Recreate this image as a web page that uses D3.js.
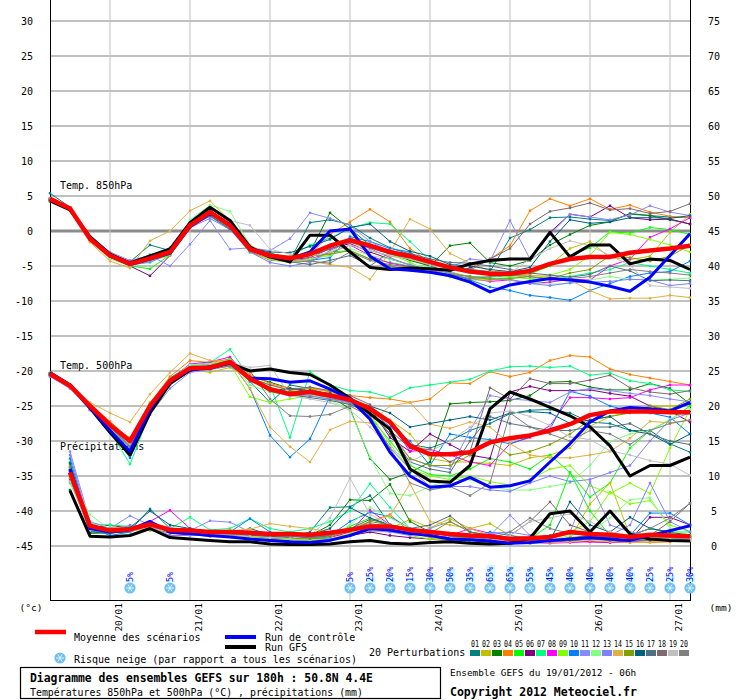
<!DOCTYPE html>
<html>
<head>
<meta charset="utf-8">
<script src="https://cdn.jsdelivr.net/npm/d3@7"></script>
<style>
  body { margin: 0; background: #fff; }
  text { font-family: "DejaVu Sans Mono", monospace; }
</style>
</head>
<body>
<div id="vis"></div>
<script>
// 6-hourly steps from 19/01 06h (index 0) to 27/01 06h (index 32)
const dayLabels = ["20/01", "21/01", "22/01", "23/01", "24/01", "25/01", "26/01", "27/01"];
const dayFirstStep = 3; // 20/01 00h
const leftTicks = [30, 25, 20, 15, 10, 5, 0, -5, -10, -15, -20, -25, -30, -35, -40, -45];
const rightTicks = [75, 70, 65, 60, 55, 50, 45, 40, 35, 30, 25, 20, 15, 10, 5, 0];

const snowSteps = [4, 6, 15, 16, 17, 18, 19, 20, 21, 22, 23, 24, 25, 26, 27, 28, 29, 30, 31, 32];
const snowPct   = [5, 5, 5, 25, 20, 15, 30, 50, 35, 65, 65, 55, 45, 40, 40, 40, 40, 25, 25, 30];

const pertNames = ["01","02","03","04","05","06","07","08","09","10","11","12","13","14","15","16","17","18","19","20"];
const pertColors = ["#008080","#c0c000","#008000","#ff8000","#00ff00","#800080","#00ff80","#ff00ff","#80ff00","#0080ff",
                    "#8888ff","#80ff80","#7f7fff","#e0b040","#80a000","#006080","#507080","#806870","#c0c0c0","#808080"];

// Temp 850 hPa (°C)
const t850Mean = [4.6,3.2,-1.1,-3.5,-4.7,-3.9,-3.0,0.8,2.7,0.8,-2.6,-3.5,-3.9,-3.3,-2.1,-1.3,-2.1,-3.0,-3.6,-4.4,-5.2,-5.8,-6.1,-6.1,-5.7,-4.7,-4.0,-3.7,-3.7,-3.1,-2.8,-2.5,-2.1];
const t850Ctrl = [4.5,3.2,-1.0,-3.6,-4.8,-4.0,-3.2,0.6,2.5,1.0,-2.5,-3.6,-4.0,-3.0,0.0,0.3,-3.6,-5.4,-5.6,-5.9,-6.4,-7.3,-8.7,-7.7,-7.2,-6.8,-7.0,-7.3,-7.9,-8.6,-6.6,-3.5,-0.4];
const t850Gfs  = [4.3,3.0,-0.8,-3.3,-4.6,-3.6,-2.6,1.2,3.4,1.5,-2.3,-3.7,-4.4,-0.6,-0.6,-3.0,-5.2,-5.5,-5.3,-5.4,-5.6,-4.7,-4.2,-4.0,-4.0,-0.2,-3.7,-2.0,-2.0,-4.7,-4.0,-4.2,-5.5];
const t850Pert = [
  [5.4,3.4,-0.8,-3.2,-4.4,-2.0,-2.8,1.0,2.6,1.0,-2.2,-3.6,-4.2,1.2,1.6,0.9,-1.0,-2.4,-3.3,-4.6,-5.0,-5.5,-5.8,-1.0,0.2,1.9,2.0,1.7,1.5,2.4,2.2,2.0,1.9],
  [4.3,3.1,-1.3,-3.7,-4.9,-4.2,-3.3,0.5,2.2,0.4,-3.0,-4.0,-4.5,-3.9,-3.5,-1.5,-2.8,-3.6,-4.0,-5.0,-5.8,-6.6,-7.0,-6.8,-6.2,-4.8,-2.5,-1.5,-3.8,-4.1,-3.6,-0.2,2.4],
  [4.5,3.3,-0.9,-3.4,-4.6,-3.7,-2.9,1.1,2.9,0.9,-2.3,-3.2,-3.8,-3.0,2.6,0.3,-2.0,-3.2,-4.2,-5.0,-2.1,-1.7,-4.5,-5.0,-4.2,-2.0,-0.5,0.8,1.3,2.5,2.2,1.6,1.0],
  [4.2,3.0,-1.4,-3.8,-4.6,-3.6,-2.5,1.3,3.2,1.4,-2.4,-3.3,-3.6,-3.4,-0.5,1.3,3.1,1.3,-2.5,-4.5,-5.2,-5.4,-4.0,-2.1,2.9,4.6,3.6,4.6,3.1,3.7,2.7,2.1,1.9],
  [4.4,3.2,-1.0,-3.5,-5.0,-5.4,-3.4,0.7,2.5,0.6,-2.8,-3.8,-4.0,-4.3,-3.0,-2.8,-4.0,-4.5,-5.0,-5.6,-6.0,-6.5,-6.6,-6.4,-6.1,-5.0,-3.5,-2.4,-0.1,-0.3,0.5,0.2,-0.5],
  [4.5,3.1,-1.2,-3.6,-5.0,-6.4,-3.5,0.6,2.4,0.5,-2.7,-3.9,-4.1,-3.8,-2.5,-1.8,-3.0,-4.0,-4.8,-5.5,-5.7,-5.3,-4.0,-4.0,-4.0,-0.2,2.4,2.0,3.6,1.9,1.6,1.7,1.0],
  [4.6,3.3,-1.2,-3.7,-4.8,-4.5,-3.2,0.9,2.8,0.7,-2.5,-3.4,-3.7,-2.0,-1.0,0.4,1.2,1.0,-1.5,-4.2,-5.0,-5.5,-6.0,-6.5,-6.8,-7.0,-6.5,-6.0,-5.5,-4.5,-5.0,-5.5,-6.0],
  [4.7,3.3,-1.0,-3.5,-4.9,-4.1,-2.8,1.2,3.0,0.6,-2.9,-4.2,-4.3,-4.0,-3.1,-2.0,-3.5,-4.6,-5.1,-5.6,-6.3,-6.8,-7.2,-7.0,-7.5,-7.3,-6.9,-7.0,-5.0,-4.0,-0.9,0.3,1.9],
  [4.4,3.0,-1.3,-3.6,-4.9,-4.3,-3.5,0.4,2.3,0.3,-3.1,-4.1,-4.5,-4.2,-3.2,-1.0,-1.8,-3.3,-4.5,-5.7,-6.6,-7.0,-7.0,-6.6,-6.8,-6.3,-5.5,-3.5,-0.2,-0.5,-1.2,-2.0,-3.0],
  [4.5,3.1,-1.1,-3.8,-4.5,-4.0,-3.0,0.7,2.1,0.2,-2.8,-3.7,-4.0,-4.2,-3.8,-0.8,-1.5,-2.5,-3.0,-5.0,-6.0,-7.0,-8.0,-8.5,-9.2,-9.5,-9.9,-8.5,-7.5,-6.5,-6.0,-5.8,-4.3],
  [4.3,3.0,-0.8,-3.0,-4.2,-3.5,-5.0,-1.9,1.5,-2.6,-2.4,-2.8,-1.1,2.6,1.8,0.8,-1.5,-3.0,-3.8,-4.4,-5.2,-4.0,-4.3,1.5,-4.0,-0.5,2.4,2.0,1.6,2.3,3.6,2.7,2.2],
  [4.3,3.1,-1.4,-4.0,-5.0,-4.2,-3.1,1.6,3.7,2.8,-2.0,-3.8,-4.4,-4.0,-3.5,-2.5,-3.5,-4.0,-4.8,-5.2,-6.0,-6.5,-6.8,-7.0,-7.3,-7.6,-7.5,-7.0,-6.5,-6.9,-7.0,-6.9,-6.7],
  [4.6,3.2,-1.2,-3.4,-4.9,-4.4,-3.3,0.5,1.8,0.2,-3.0,-4.5,-5.0,-4.5,-2.8,-1.5,-2.5,-3.8,-4.9,-5.5,-6.0,-6.5,-6.8,-6.9,-7.5,-7.8,-7.4,-7.3,-7.2,-6.9,-7.0,-7.8,-7.5],
  [4.2,2.9,-1.6,-4.3,-5.3,-1.4,0.0,2.9,4.3,1.5,-2.0,-3.6,-4.0,-4.3,-4.8,-5.2,-6.9,-3.0,1.7,0.3,-3.2,-4.6,-5.7,-6.0,-6.3,-6.5,-7.0,-8.5,-9.7,-9.6,-9.6,-9.2,-9.5],
  [4.4,3.1,-1.2,-3.5,-4.7,-3.8,-2.7,1.0,2.8,0.9,-2.6,-3.4,-3.8,-3.6,-3.3,-2.8,-4.0,-5.0,-5.5,-5.8,-6.2,-6.5,-6.9,-6.8,-6.5,-6.8,-6.0,-5.5,-3.5,-3.8,-4.3,-3.6,-2.0],
  [4.5,3.2,-1.0,-3.3,-4.4,-3.4,-2.4,1.1,2.9,1.0,-2.4,-3.0,-3.1,-2.2,-1.2,0.5,1.0,-1.5,-2.9,-3.6,-4.8,-5.0,-5.5,-5.8,-5.2,-1.5,1.6,1.1,1.3,1.9,1.9,1.8,2.2],
  [4.4,3.0,-1.3,-3.6,-4.8,-4.0,-3.2,0.7,2.2,0.3,-2.8,-3.5,-4.4,-4.8,-4.2,-3.5,-5.0,-3.0,-3.2,-4.0,-4.5,-4.6,-5.0,-5.5,-6.0,-6.3,-6.6,-6.2,-5.0,-5.7,-7.1,-7.0,-7.1],
  [4.5,3.1,-1.1,-3.5,-4.6,-3.9,-3.1,0.9,2.6,0.7,-2.5,-3.5,-3.9,-3.5,-2.6,-1.6,-2.4,-3.3,-3.9,-4.8,-5.4,-5.6,-4.0,-2.5,1.0,2.8,3.3,4.0,3.0,3.2,2.5,2.8,3.9],
  [4.6,3.3,-1.0,-3.4,-4.5,-3.8,-2.9,0.8,2.5,1.5,0.8,-2.6,-3.3,-3.6,-3.0,-2.0,-2.8,-3.5,-4.0,-4.8,-5.5,-6.0,-6.2,-6.0,-4.0,-2.5,-1.4,-2.1,-3.5,-4.9,-7.8,-8.0,-8.2],
  [4.5,3.2,-1.1,-3.5,-4.7,-3.9,-2.9,0.9,2.7,0.9,-2.6,-3.8,-4.5,-4.3,-4.6,-3.0,-4.2,-4.8,-5.2,-5.9,-6.2,-6.8,-6.5,-6.3,-6.5,-7.0,-6.8,-6.5,-6.0,-5.5,-5.8,-6.0,-6.3]
];

// Temp 500 hPa (°C)
const t500Mean = [-20.4,-22.1,-25.0,-27.7,-30.0,-25.0,-21.4,-19.6,-19.5,-18.7,-21.1,-22.6,-23.3,-23.0,-23.5,-24.1,-25.4,-27.3,-30.7,-31.9,-31.9,-31.6,-30.2,-29.6,-29.2,-28.5,-27.6,-26.3,-25.8,-25.8,-25.8,-25.9,-25.9];
const t500Ctrl = [-20.3,-22.0,-25.2,-28.5,-31.5,-25.5,-21.5,-19.8,-19.6,-18.8,-21.0,-21.1,-21.6,-21.4,-22.6,-24.0,-26.9,-31.6,-35.0,-36.6,-36.4,-35.2,-36.6,-36.4,-35.7,-33.0,-30.4,-27.3,-25.7,-25.2,-25.4,-25.7,-24.5];
const t500Gfs  = [-20.2,-22.0,-25.3,-28.8,-32.0,-26.0,-21.8,-19.9,-19.4,-18.9,-20.0,-19.7,-20.2,-20.5,-22.0,-23.9,-26.1,-28.3,-34.0,-35.7,-35.9,-33.5,-25.4,-23.0,-24.0,-25.2,-26.4,-28.0,-30.7,-35.0,-33.5,-33.5,-32.3];
const t500Pert = [
  [-20.5,-22.0,-25.0,-27.5,-30.5,-24.8,-21.0,-19.2,-19.0,-18.5,-21.5,-24.5,-22.0,-22.5,-23.5,-24.4,-25.5,-27.0,-30.5,-31.0,-30.0,-28.5,-27.5,-26.1,-25.6,-25.5,-26.0,-27.3,-27.5,-28.5,-28.5,-30.4,-31.6],
  [-20.6,-22.3,-25.3,-27.8,-29.5,-24.5,-21.2,-19.8,-20.2,-19.5,-21.0,-22.0,-22.8,-22.5,-23.0,-24.0,-25.0,-27.0,-29.0,-32.5,-33.0,-33.0,-33.2,-33.5,-32.4,-32.0,-31.0,-27.9,-26.5,-25.8,-25.0,-25.0,-24.8],
  [-20.4,-22.1,-25.1,-27.9,-30.4,-25.2,-21.3,-19.3,-19.3,-18.5,-20.8,-21.6,-22.5,-23.0,-23.6,-25.4,-32.5,-35.5,-34.5,-33.0,-24.7,-24.5,-24.4,-24.2,-23.5,-21.6,-21.5,-22.3,-22.7,-22.7,-21.8,-22.5,-24.7],
  [-20.3,-22.0,-24.7,-27.2,-29.8,-24.6,-20.8,-18.5,-18.8,-18.3,-20.5,-21.8,-22.5,-22.4,-22.9,-23.5,-23.8,-24.0,-24.5,-24.0,-21.7,-21.8,-20.1,-20.8,-20.2,-18.5,-17.8,-18.0,-19.7,-20.5,-21.0,-21.5,-22.0],
  [-20.5,-22.2,-25.2,-28.2,-31.0,-25.6,-21.6,-19.5,-19.2,-18.2,-21.2,-22.9,-23.5,-23.2,-23.8,-24.5,-26.5,-30.0,-33.5,-34.8,-35.0,-34.0,-32.5,-33.0,-34.0,-32.0,-34.5,-38.0,-36.0,-31.0,-28.5,-27.0,-25.0],
  [-20.5,-22.2,-25.5,-28.5,-31.5,-25.8,-21.9,-20.0,-19.7,-19.0,-21.4,-22.5,-23.0,-22.8,-23.3,-23.9,-25.2,-29.5,-31.5,-29.0,-30.5,-32.0,-32.5,-23.0,-22.2,-22.8,-22.8,-22.7,-23.2,-23.6,-25.0,-25.7,-27.3],
  [-20.6,-22.3,-25.4,-28.6,-33.3,-26.0,-21.5,-19.2,-18.8,-16.9,-21.0,-22.0,-29.5,-20.1,-22.0,-22.8,-23.0,-23.8,-22.4,-22.0,-21.6,-21.2,-20.0,-19.4,-19.3,-19.5,-19.3,-20.6,-20.3,-21.4,-21.8,-22.7,-22.9],
  [-20.4,-22.1,-25.0,-27.6,-30.2,-25.1,-21.2,-19.0,-18.7,-18.0,-21.2,-22.5,-23.2,-23.0,-23.6,-24.4,-25.0,-27.3,-31.5,-31.2,-32.0,-33.0,-33.5,-30.4,-29.5,-27.8,-23.8,-23.8,-24.0,-23.8,-22.7,-22.0,-22.0],
  [-20.3,-22.2,-25.2,-28.0,-30.5,-25.4,-21.7,-19.5,-19.4,-19.0,-23.7,-24.5,-24.0,-23.5,-24.0,-24.8,-26.0,-30.5,-34.0,-35.0,-35.5,-35.0,-35.8,-36.3,-35.5,-34.0,-33.5,-36.4,-37.5,-36.0,-37.5,-31.0,-25.5],
  [-20.5,-22.3,-25.5,-28.5,-32.4,-26.2,-21.8,-19.5,-19.3,-18.6,-22.5,-29.2,-32.3,-29.7,-23.6,-24.4,-25.5,-28.0,-30.0,-33.5,-29.0,-29.5,-29.8,-30.4,-29.4,-28.3,-22.9,-23.6,-25.0,-25.7,-26.0,-26.6,-29.0],
  [-20.8,-22.5,-25.3,-28.0,-30.5,-26.2,-22.5,-20.2,-19.8,-19.3,-21.3,-22.8,-23.6,-23.4,-23.8,-24.5,-25.8,-28.5,-32.5,-33.5,-34.0,-28.5,-23.5,-24.0,-24.2,-24.5,-23.0,-22.5,-22.8,-23.2,-23.5,-24.0,-24.4],
  [-20.2,-21.9,-24.9,-27.5,-30.2,-24.9,-21.2,-19.1,-19.0,-18.4,-22.0,-23.0,-23.5,-23.3,-24.2,-25.6,-32.3,-37.5,-37.8,-36.5,-35.5,-35.5,-36.5,-37.0,-37.0,-36.5,-36.0,-33.5,-30.1,-29.0,-28.5,-26.9,-25.5],
  [-20.7,-22.4,-25.6,-28.3,-31.0,-25.7,-22.0,-20.0,-19.8,-18.9,-21.3,-22.7,-23.5,-23.6,-24.0,-24.6,-26.5,-31.0,-34.0,-36.5,-36.5,-36.5,-37.0,-37.2,-36.0,-35.0,-35.8,-35.5,-34.5,-33.5,-30.0,-27.0,-26.0],
  [-20.5,-22.0,-24.5,-26.0,-27.3,-23.3,-20.2,-17.5,-18.5,-18.6,-22.5,-28.0,-30.8,-33.0,-28.4,-27.2,-27.4,-25.0,-24.5,-27.6,-28.2,-27.3,-28.0,-30.4,-32.0,-32.4,-32.4,-32.0,-31.5,-29.6,-27.2,-27.4,-27.0],
  [-20.4,-22.1,-25.0,-27.7,-30.6,-25.3,-21.5,-19.7,-19.5,-18.8,-21.3,-22.4,-23.0,-22.9,-23.3,-24.0,-25.5,-29.0,-32.5,-33.5,-33.5,-32.0,-30.0,-32.0,-31.5,-30.5,-29.0,-27.0,-26.5,-26.0,-25.0,-25.5,-24.0],
  [-20.3,-22.0,-25.1,-27.6,-30.0,-25.0,-21.3,-19.4,-19.3,-18.7,-21.0,-22.8,-22.5,-22.8,-23.2,-24.2,-25.0,-26.0,-28.0,-27.5,-27.0,-26.5,-27.0,-26.0,-25.8,-26.0,-27.5,-27.0,-26.5,-28.5,-29.0,-30.5,-29.0],
  [-20.4,-22.2,-25.2,-27.9,-30.8,-25.6,-21.7,-19.7,-19.6,-19.2,-21.2,-22.9,-23.4,-23.8,-24.2,-24.8,-26.0,-29.0,-33.0,-34.0,-34.5,-30.0,-26.5,-27.5,-28.0,-28.5,-28.5,-28.0,-28.0,-27.5,-29.0,-30.0,-30.5],
  [-20.5,-22.1,-25.1,-27.8,-30.3,-25.2,-21.6,-19.8,-19.6,-19.0,-21.0,-22.0,-22.7,-22.3,-22.8,-23.5,-24.8,-28.5,-31.0,-31.2,-33.0,-31.5,-22.4,-24.0,-21.1,-21.8,-21.8,-21.3,-20.6,-22.4,-23.0,-23.3,-22.8],
  [-20.4,-22.2,-25.2,-27.9,-30.5,-25.4,-21.4,-19.3,-19.2,-18.8,-19.5,-19.2,-23.5,-24.0,-24.5,-25.6,-28.0,-31.0,-33.0,-31.5,-30.0,-28.0,-26.0,-25.7,-26.5,-27.8,-29.4,-29.8,-31.4,-32.0,-32.8,-33.3,-34.9],
  [-20.6,-22.3,-25.3,-28.0,-30.8,-25.5,-21.8,-19.8,-19.7,-19.3,-20.0,-24.0,-26.4,-26.5,-26.2,-25.0,-26.5,-31.0,-36.0,-37.0,-36.5,-37.8,-36.0,-26.0,-28.0,-29.0,-30.0,-28.5,-29.0,-30.5,-28.5,-27.5,-27.0]
];

// Precipitations (mm), no value at the analysis step
const precMean = [null,10.5,2.9,2.2,2.4,3.1,2.3,2.2,2.0,2.0,1.9,1.7,1.7,1.6,1.9,2.3,2.8,2.8,2.3,2.0,1.7,1.5,1.4,1.0,1.1,1.3,2.0,1.7,1.6,1.3,1.6,1.5,1.4];
const precCtrl = [null,11.0,2.5,2.0,2.3,3.5,2.0,1.8,1.5,1.3,1.0,0.8,0.6,0.5,0.8,1.5,2.5,2.3,1.8,1.5,1.0,0.9,0.7,0.4,0.5,0.8,1.0,1.2,1.0,0.8,1.5,2.2,2.9];
const precGfs  = [null,7.9,1.4,1.3,1.5,2.5,1.2,1.0,0.8,0.6,0.6,0.3,0.2,0.2,0.3,0.6,0.8,0.4,0.3,0.5,0.6,0.4,0.3,0.4,1.1,4.6,5.0,2.0,5.0,1.7,1.0,0.8,0.7];
const precPert = [
  [null,9.5,2.0,1.8,2.2,5.3,2.5,2.0,1.5,1.8,2.5,1.6,1.2,2.0,5.5,5.6,7.2,3.0,2.0,1.5,1.2,0.8,0.6,0.5,0.8,1.5,2.0,1.8,1.0,1.5,1.2,1.0,1.3],
  [null,11.5,2.4,2.6,2.8,2.2,2.0,2.5,1.8,1.5,1.5,1.8,1.2,1.0,1.5,1.5,2.0,2.5,3.8,2.6,3.9,2.5,3.2,1.5,1.2,0.8,1.0,6.0,9.0,1.5,1.0,0.8,0.8],
  [null,8.0,1.8,1.9,2.0,3.0,2.4,1.8,1.7,1.9,1.5,1.0,0.8,1.5,3.0,6.6,6.5,8.8,3.5,2.0,1.5,1.0,0.5,0.3,0.5,0.8,1.0,1.5,1.2,1.5,2.5,2.0,1.5],
  [null,10.0,2.8,2.3,2.5,3.4,2.6,2.4,2.0,2.2,2.0,1.5,1.3,1.2,1.5,2.0,3.5,4.5,2.0,1.2,1.0,0.8,0.6,0.8,0.6,0.5,0.8,1.0,0.8,0.6,0.5,0.6,0.8],
  [null,12.0,3.0,2.4,2.6,3.0,2.2,2.0,1.9,2.0,1.8,1.5,1.4,1.0,1.5,2.8,4.0,3.0,2.5,2.0,1.5,1.0,0.8,0.5,1.0,3.0,10.5,5.0,1.5,1.2,1.0,1.5,1.2],
  [null,10.8,2.5,3.0,2.5,2.8,1.8,1.6,1.4,1.6,1.4,1.1,1.0,0.8,1.0,1.5,2.0,1.5,1.2,1.0,0.8,0.6,0.5,0.5,0.4,0.6,0.8,0.6,0.5,0.8,4.1,4.1,3.0],
  [null,9.0,3.2,3.0,2.8,2.6,2.5,4.1,2.3,2.5,3.9,2.5,2.0,2.5,3.5,5.0,8.9,5.5,2.5,2.0,1.8,1.0,0.6,0.5,0.4,0.5,1.0,1.2,1.0,1.5,2.5,2.0,2.0],
  [null,10.5,2.2,2.1,2.4,3.5,5.1,2.5,2.0,1.8,1.6,1.2,1.0,1.0,1.2,2.0,5.1,3.0,2.2,1.8,1.5,2.5,1.8,1.0,0.5,0.4,0.5,0.6,0.5,0.5,1.0,1.2,1.0],
  [null,11.2,2.7,2.5,2.2,2.5,2.0,1.8,1.6,1.5,1.3,1.0,0.9,0.8,1.0,1.8,3.0,2.5,1.5,1.0,0.8,0.6,0.5,0.4,0.6,1.0,2.0,3.5,7.7,6.0,6.5,3.0,2.0],
  [null,12.5,2.6,1.5,2.0,3.2,2.1,1.9,1.8,2.0,3.9,2.0,1.5,1.2,1.5,3.5,4.8,4.2,2.5,2.0,1.5,1.2,2.0,1.5,1.0,0.6,0.8,1.0,1.2,1.5,4.7,4.7,3.0],
  [null,13.5,3.5,2.5,4.3,3.0,2.6,2.2,3.6,3.4,2.0,1.5,1.2,1.0,1.3,2.5,3.0,2.0,1.5,2.5,3.5,2.0,1.5,4.4,1.5,1.0,2.0,9.1,3.0,2.0,1.5,1.0,1.0],
  [null,10.2,4.5,2.3,2.2,2.8,2.4,2.0,1.8,1.6,1.5,1.3,1.0,0.9,1.2,3.0,5.5,4.0,2.5,1.5,1.0,0.6,0.5,0.5,0.5,0.8,1.5,2.0,4.0,6.6,6.9,2.5,1.5],
  [null,13.0,2.9,2.0,3.0,2.8,1.5,1.5,1.6,2.0,1.8,1.5,1.3,1.2,1.0,1.5,2.2,2.0,1.8,1.5,1.2,1.0,1.8,2.0,1.5,1.0,0.8,1.2,1.5,3.0,9.0,3.5,2.0],
  [null,9.8,2.3,2.2,2.5,2.7,2.3,2.1,2.0,2.2,2.4,3.2,2.8,2.5,2.0,2.5,3.5,4.3,8.9,3.5,3.0,2.5,1.5,0.8,0.6,0.5,0.6,0.8,0.6,0.5,0.6,0.8,1.0],
  [null,10.3,2.6,2.4,2.3,2.9,2.2,2.0,1.9,1.7,1.5,1.3,1.1,1.0,1.3,2.2,3.5,3.0,2.0,1.8,3.5,2.0,1.5,1.0,0.8,0.8,1.2,1.5,1.0,0.8,1.0,1.2,1.5],
  [null,11.8,2.1,2.0,2.6,5.0,3.0,2.5,1.8,1.6,1.5,1.4,1.2,1.5,2.5,5.5,4.0,3.0,2.0,1.5,1.0,0.8,0.6,0.5,0.5,0.8,6.3,3.0,2.0,4.1,2.5,2.0,3.0],
  [null,10.7,2.5,2.2,2.4,3.0,2.3,2.1,1.9,1.8,1.6,1.5,1.3,1.2,1.5,2.5,3.8,3.0,2.5,3.0,4.3,2.0,1.5,1.0,0.8,0.6,0.8,1.0,0.8,0.7,0.8,1.0,1.2],
  [null,10.9,2.6,2.3,2.5,3.1,2.4,2.2,2.0,1.9,1.7,1.5,1.4,1.3,1.6,2.2,2.8,2.4,1.8,1.5,1.2,1.0,0.8,1.5,3.5,6.3,3.0,2.0,1.5,1.2,1.5,3.5,6.1],
  [null,9.2,2.2,2.0,2.1,2.6,2.0,1.8,1.7,1.6,1.4,1.2,1.1,1.5,4.0,9.7,4.5,3.0,2.0,1.5,1.2,1.0,0.8,1.5,3.5,4.0,4.6,3.5,2.0,1.5,1.2,1.0,1.0],
  [null,11.3,2.5,2.4,2.4,3.2,2.3,2.1,1.9,1.8,1.7,1.5,1.4,1.3,1.6,2.5,3.2,2.8,2.2,1.8,1.5,1.2,1.0,2.0,4.0,2.5,1.8,1.5,1.2,1.5,2.5,4.0,6.1]
];

const WIDTH = 740;
const HEIGHT = 700;
const LEFT = 50;
const RIGHT = 690;
const BOTTOM = 600;

const xScale = d3.scaleLinear([0, 32], [LEFT, RIGHT]);
const tScale = d3.scaleLinear([-45, 30], [546, 21]);
const pScale = d3.scaleLinear([0, 75], [546, 21]);

const svg = d3.select("#vis")
              .append("svg")
                .attr("width", WIDTH)
                .attr("height", HEIGHT)
                .style("display", "block")
                .style("background", "#fff");

// grid
svg.selectAll("line.hgrid")
   .data(leftTicks)
   .enter()
   .append("line")
     .attr("x1", LEFT).attr("x2", RIGHT)
     .attr("y1", d => tScale(d)).attr("y2", d => tScale(d))
     .attr("stroke", d => d === 0 ? "#8c8c8c" : "#c0c0c0")
     .attr("stroke-width", d => d === 0 ? 3 : 2);

svg.selectAll("line.vgrid")
   .data(dayLabels)
   .enter()
   .append("line")
     .attr("x1", (d, k) => xScale(dayFirstStep + 4 * k))
     .attr("x2", (d, k) => xScale(dayFirstStep + 4 * k))
     .attr("y1", 0).attr("y2", BOTTOM)
     .attr("stroke", "#c0c0c0")
     .attr("stroke-width", 1);

// frame
svg.append("line").attr("x1", LEFT + 0.5).attr("x2", LEFT + 0.5).attr("y1", 0).attr("y2", BOTTOM).attr("stroke", "#000");
svg.append("line").attr("x1", RIGHT + 0.5).attr("x2", RIGHT + 0.5).attr("y1", 0).attr("y2", BOTTOM).attr("stroke", "#000");
svg.append("line").attr("x1", LEFT).attr("x2", RIGHT + 1).attr("y1", BOTTOM + 0.5).attr("y2", BOTTOM + 0.5).attr("stroke", "#000");

// axis labels
svg.selectAll("text.lt")
   .data(leftTicks)
   .enter()
   .append("text")
     .attr("x", 33).attr("y", d => tScale(d))
     .attr("text-anchor", "end").attr("dominant-baseline", "central")
     .attr("font-size", 10)
     .text(d => d);

svg.selectAll("text.rt")
   .data(rightTicks)
   .enter()
   .append("text")
     .attr("x", 714).attr("y", d => pScale(d))
     .attr("text-anchor", "middle").attr("dominant-baseline", "central")
     .attr("font-size", 10)
     .text(d => d);

svg.selectAll("text.day")
   .data(dayLabels)
   .enter()
   .append("text")
     .attr("transform", (d, k) => `translate(${xScale(dayFirstStep + 4 * k) + 8}, 603) rotate(-90)`)
     .attr("text-anchor", "end").attr("dominant-baseline", "central")
     .attr("font-size", 9.5)
     .text(d => d);

svg.append("text").attr("x", 31).attr("y", 607).attr("text-anchor", "middle").attr("dominant-baseline", "central").attr("font-size", 9.5).text("(°c)");
svg.append("text").attr("x", 721).attr("y", 607).attr("text-anchor", "middle").attr("dominant-baseline", "central").attr("font-size", 9.5).text("(mm)");

// section titles
[["Temp. 850hPa", 185], ["Temp. 500hPa", 365], ["Précipitations", 446]].forEach(([t, y]) => {
  svg.append("text").attr("x", 60).attr("y", y).attr("dominant-baseline", "central").attr("font-size", 10).text(t);
});

// series
function drawSeries(values, yScale, color, width, dots) {
  const line = d3.line()
    .defined(d => d !== null)
    .x((d, i) => xScale(i))
    .y(d => yScale(d));
  svg.append("path")
     .datum(values)
     .attr("d", line)
     .attr("fill", "none")
     .attr("stroke", color)
     .attr("stroke-width", width)
     .attr("stroke-linejoin", "round");
  if (dots) {
    svg.append("g").selectAll("rect")
       .data(values.map((v, i) => [i, v]).filter(d => d[1] !== null))
       .enter()
       .append("rect")
         .attr("x", d => xScale(d[0]) - 1.2)
         .attr("y", d => yScale(d[1]) - 1.2)
         .attr("width", 2.4).attr("height", 2.4)
         .attr("fill", color);
  }
}

[[t850Pert, tScale], [t500Pert, tScale], [precPert, pScale]].forEach(([set, sc]) => {
  set.forEach((s, m) => drawSeries(s, sc, pertColors[m], 1, true));
});
[[t850Gfs, t850Ctrl, t850Mean, tScale], [t500Gfs, t500Ctrl, t500Mean, tScale], [precGfs, precCtrl, precMean, pScale]].forEach(([g, c, m, sc]) => {
  drawSeries(g, sc, "#000000", 3, false);
  drawSeries(c, sc, "#0000ff", 3, false);
  drawSeries(m, sc, "#ff0000", 4.5, false);
});

// snow risk
function snowflake(g, cx, cy) {
  g.append("circle").attr("cx", cx).attr("cy", cy).attr("r", 5.6).attr("fill", "#6fc0ee");
  [0, 60, 120].forEach(a => {
    const r = a * Math.PI / 180;
    g.append("line")
      .attr("x1", cx - 4 * Math.cos(r)).attr("y1", cy - 4 * Math.sin(r))
      .attr("x2", cx + 4 * Math.cos(r)).attr("y2", cy + 4 * Math.sin(r))
      .attr("stroke", "#dff3ff").attr("stroke-width", 1);
  });
}

const snow = svg.append("g");
snowSteps.forEach((s, k) => {
  const cx = xScale(s);
  const h = snowPct[k] * 0.26;
  snow.append("rect").attr("x", cx - 4).attr("y", 582 - h).attr("width", 9).attr("height", h).attr("fill", "#ccffff");
  snow.append("text")
      .attr("transform", `translate(${cx}, 582) rotate(-90)`)
      .attr("dominant-baseline", "central")
      .attr("font-size", 8.5)
      .attr("fill", "#0000ff")
      .text(snowPct[k] + "%");
  snowflake(snow, cx, 588);
});

// legend
const lg = svg.append("g");
lg.append("line").attr("x1", 35).attr("x2", 66).attr("y1", 632).attr("y2", 632).attr("stroke", "#ff0000").attr("stroke-width", 4.5);
lg.append("text").attr("x", 74).attr("y", 637).attr("dominant-baseline", "central").attr("font-size", 10).text("Moyenne des scénarios");
lg.append("line").attr("x1", 225).attr("x2", 256).attr("y1", 637).attr("y2", 637).attr("stroke", "#0000ff").attr("stroke-width", 4);
lg.append("text").attr("x", 265).attr("y", 637).attr("dominant-baseline", "central").attr("font-size", 10).text("Run de contrôle");
lg.append("line").attr("x1", 225).attr("x2", 256).attr("y1", 647).attr("y2", 647).attr("stroke", "#000000").attr("stroke-width", 4);
lg.append("text").attr("x", 265).attr("y", 647.5).attr("dominant-baseline", "central").attr("font-size", 10).text("Run GFS");
snowflake(lg, 60, 658);
lg.append("text").attr("x", 74).attr("y", 659).attr("dominant-baseline", "central").attr("font-size", 10).text("Risque neige (par rapport a tous les scénarios)");
lg.append("text").attr("x", 369).attr("y", 652).attr("dominant-baseline", "central").attr("font-size", 10).text("20 Perturbations");

lg.selectAll("rect.pb")
  .data(pertColors)
  .enter()
  .append("rect")
    .attr("x", (d, k) => 470 + 11 * k).attr("y", 650)
    .attr("width", 10).attr("height", 6)
    .attr("fill", d => d);
lg.selectAll("text.pn")
  .data(pertNames)
  .enter()
  .append("text")
    .attr("x", (d, k) => 475 + 11 * k).attr("y", 644)
    .attr("text-anchor", "middle").attr("dominant-baseline", "central")
    .attr("font-size", 8)
    .attr("textLength", 8).attr("lengthAdjust", "spacingAndGlyphs")
    .text(d => d);

// caption box
svg.append("rect").attr("x", 20.5).attr("y", 667.5).attr("width", 420).attr("height", 31)
   .attr("fill", "#fff").attr("stroke", "#000").attr("stroke-width", 1.2);
svg.append("text").attr("x", 30).attr("y", 677.5).attr("dominant-baseline", "central")
   .attr("font-size", 11.4).attr("font-weight", "bold")
   .text("Diagramme des ensembles GEFS sur 180h : 50.8N 4.4E");
svg.append("text").attr("x", 30).attr("y", 692).attr("dominant-baseline", "central")
   .attr("font-size", 9.9)
   .text("Températures 850hPa et 500hPa (°C) , précipitations (mm)");
svg.append("text").attr("x", 450).attr("y", 672).attr("dominant-baseline", "central")
   .attr("font-size", 9.4)
   .text("Ensemble GEFS du 19/01/2012 - 06h");
svg.append("text").attr("x", 450).attr("y", 692).attr("dominant-baseline", "central")
   .attr("font-size", 11.5).attr("font-weight", "bold")
   .text("Copyright 2012 Meteociel.fr");
</script>
</body>
</html>
